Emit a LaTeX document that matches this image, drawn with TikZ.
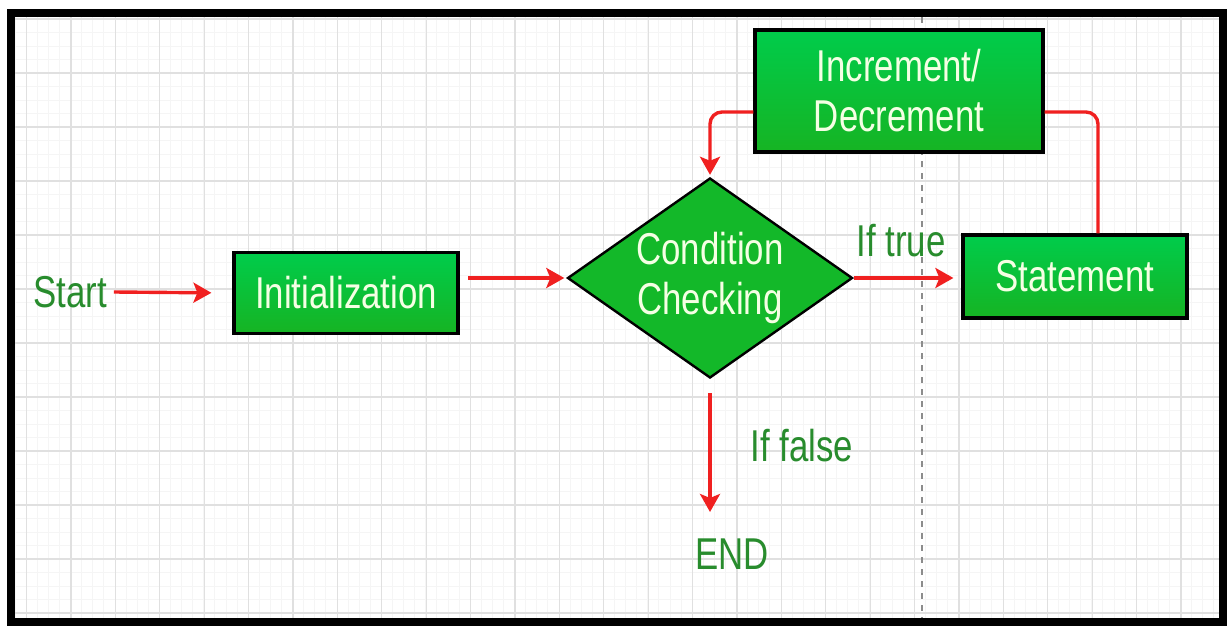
\documentclass[tikz,border=0pt]{standalone}
\usepackage{fontspec}
\setmainfont{Liberation Sans}[FakeStretch=0.78]
\usetikzlibrary{arrows.meta,shapes.geometric}
\definecolor{arrowred}{RGB}{240,32,32}
\definecolor{labelgreen}{RGB}{40,140,45}
\definecolor{boxtop}{RGB}{0,204,75}
\definecolor{boxbot}{RGB}{22,180,35}
\definecolor{boxtext}{RGB}{245,255,228}
\begin{document}
\begin{tikzpicture}[x=0.5pt,y=-0.5pt,
  every node/.style={font=\fontsize{22.3}{25}\selectfont},
  stepbox/.style={draw=black, line width=1.6pt, top color=boxtop, bottom color=boxbot,
    text=boxtext, align=center, inner sep=0pt},
  testbox/.style={diamond, draw=black, line width=1.2pt, fill=boxbot!85!boxtop,
    text=boxtext, align=center, inner sep=0pt, aspect=1.425,
    minimum width=142.5pt, minimum height=100pt},
  tag/.style={text=labelgreen},
  flow/.style={arrowred, line width=1.7pt, -{Stealth[length=9pt,width=10pt,inset=2pt]}},
  wire/.style={arrowred, line width=1.7pt}]
\useasboundingbox (0,0) rectangle (1230,626);
\fill[white] (0,0) rectangle (1230,626);
% grid
\foreach \x in {0,...,108}
    \draw[black!4, line width=0.4pt] (15+11.1*\x,17)--(15+11.1*\x,618);
\foreach \y in {0,...,44}
    \draw[black!4, line width=0.4pt] (15,19+13.5*\y)--(1219,19+13.5*\y);
\foreach \x in {0,...,27}
    \draw[black!12, line width=0.6pt] (26.5+44.4*\x,17)--(26.5+44.4*\x,618);
\foreach \y in {0,...,11}
    \draw[black!12, line width=0.6pt] (15,19+54*\y)--(1219,19+54*\y);
\draw[black!45, line width=0.6pt, dash pattern=on 3pt off 3pt] (922,17)--(922,618);
\draw[black, line width=4pt] (11,13) rectangle (1223,622);

\node[tag] (start) at (70,292) {Start};
\node[stepbox, minimum width=112pt, minimum height=40.5pt] (init) at (346,293) {Initialization};
\node[testbox] (cond) at (710,278) {Condition\\Checking};
\node[stepbox, minimum width=112pt, minimum height=41.5pt] (stat) at (1075,276.5) {Statement};
\node[stepbox, minimum width=144pt, minimum height=61pt] (incr) at (899,91) {Increment/\\Decrement};
\node[tag] (endtxt) at (732,554) {END};
\node[tag] (falsetag) at (802,446) {If false};

\coordinate (initout) at (468,278);
\coordinate (falsetip) at (710,512);

\draw[flow, shorten >=10.5pt] (start.east) -- (init.west);
\draw[flow, shorten >=1pt] (initout) -- (cond.west);
\draw[flow, shorten >=4pt] (cond.east) -- (cond.east -| stat.west)
    node[tag, pos=0.44, above=6.5pt]{If true};
\draw[flow] ([yshift=-7pt]cond.south) -- (falsetip);
\draw[wire, rounded corners=6pt] ([xshift=11.5pt]stat.north) |- ([yshift=-10.5pt]incr.east);
\draw[flow, rounded corners=6pt, shorten >=1pt] ([yshift=-10.5pt]incr.west) -| (cond.north);

\end{tikzpicture}
\end{document}
